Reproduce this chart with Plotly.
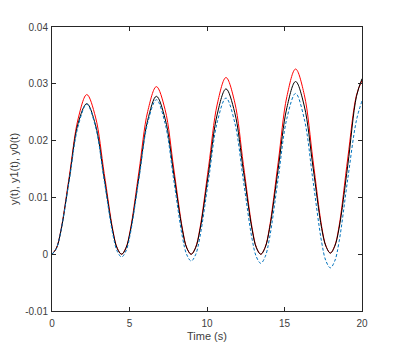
import plotly.graph_objects as go

# time samples (s), 8 per oscillation period plus extra points around the minima
t = [0.0, 0.281, 0.561, 1.123, 1.684, 2.245, 2.806, 3.368, 3.929, 4.209,
     4.49, 4.771, 5.051, 5.613, 6.174, 6.735, 7.296, 7.858, 8.419, 8.699,
     8.98, 9.261, 9.541, 10.103, 10.664, 11.225, 11.786, 12.348, 12.909, 13.189,
     13.47, 13.751, 14.031, 14.593, 15.154, 15.715, 16.276, 16.838, 17.399, 17.679,
     17.96, 18.241, 18.521, 19.083, 19.644, 20.0]

# y(t) - red
y = [0.0, 0.00107, 0.00403, 0.01386, 0.02382, 0.0281, 0.02415, 0.01424, 0.0042, 0.00107,
     0.0, 0.00112, 0.00425, 0.01463, 0.02513, 0.0295, 0.02546, 0.01501, 0.00442, 0.00112,
     0.0, 0.00118, 0.00448, 0.0154, 0.02644, 0.0311, 0.02678, 0.01578, 0.00465, 0.00118,
     0.0, 0.00124, 0.0047, 0.01616, 0.02776, 0.0326, 0.02808, 0.01655, 0.00487, 0.00143,
     0.0002, 0.00148, 0.00493, 0.01693, 0.0280, 0.0306]

# y1(t) - black
y1 = [0.0, 0.00101, 0.0039, 0.01341, 0.02303, 0.0265, 0.02276, 0.01341, 0.00395, 0.00101,
      0.0, 0.00106, 0.004, 0.01373, 0.02358, 0.0278, 0.02387, 0.01406, 0.00414, 0.00106,
      0.0, 0.00111, 0.00419, 0.01438, 0.02469, 0.0291, 0.02498, 0.01471, 0.00433, 0.00111,
      0.0, 0.00116, 0.00438, 0.01503, 0.0258, 0.0304, 0.02609, 0.01536, 0.00452, 0.00135,
      0.0002, 0.0014, 0.00457, 0.01568, 0.0278, 0.0309]

# y0(t) - blue dashed
y0 = [0.0, 0.00101, 0.00387, 0.0132, 0.02254, 0.0264, 0.02246, 0.01295, 0.00344, 0.00052,
      -0.0005, 0.00056, 0.00356, 0.01335, 0.02314, 0.0272, 0.02304, 0.013, 0.00296, -0.00012,
      -0.0012, -0.00011, 0.003, 0.01315, 0.0233, 0.0275, 0.02324, 0.01295, 0.00266, -0.00049,
      -0.0016, -0.00046, 0.00278, 0.01335, 0.02392, 0.0283, 0.02381, 0.01295, 0.00209, -0.00123,
      -0.0024, -0.0012, 0.0022, 0.0133, 0.0236, 0.027]

x_ticks = [0, 5, 10, 15, 20]
y_ticks = [-0.01, 0, 0.01, 0.02, 0.03, 0.04]
y_tick_labels = ["-0.01", "0", "0.01", "0.02", "0.03", "0.04"]

fig = go.Figure()

fig.add_trace(go.Scatter(x=t, y=y, mode='lines', line_shape='spline',
                         line=dict(color='#ff0000', width=1), name='y(t)'))
fig.add_trace(go.Scatter(x=t, y=y1, mode='lines', line_shape='spline',
                         line=dict(color='#000000', width=1), name='y1(t)'))
fig.add_trace(go.Scatter(x=t, y=y0, mode='lines', line_shape='spline',
                         line=dict(color='#0072bd', width=1, dash='3px,2px'), name='y0(t)'))

axis_style = dict(showline=True, linecolor='#262626', linewidth=1, mirror='ticks',
                  ticks='inside', ticklen=4, tickcolor='#262626', showgrid=False,
                  zeroline=False, automargin=False, tickfont=dict(size=10, color='#404040'))

# the page body adds an 8px offset, so the figure is a bit smaller than the window
fig.update_layout(
    width=392, height=341,
    margin=dict(l=44, r=38, t=19, b=38),
    paper_bgcolor='white', plot_bgcolor='white',
    font=dict(family='Liberation Sans, Arial, sans-serif', size=10, color='#404040'),
    showlegend=False,
    xaxis=dict(range=[0, 20], tickvals=x_ticks, ticklabelstandoff=3,
               title=dict(text='Time (s)', font=dict(size=11, color='#404040'), standoff=4),
               **axis_style),
    yaxis=dict(range=[-0.01, 0.04], tickvals=y_ticks, ticktext=y_tick_labels,
               ticklabelstandoff=1,
               title=dict(text='y(t), y1(t), y0(t)', font=dict(size=11, color='#404040'), standoff=4),
               **axis_style),
)

fig.write_html("out.html")
